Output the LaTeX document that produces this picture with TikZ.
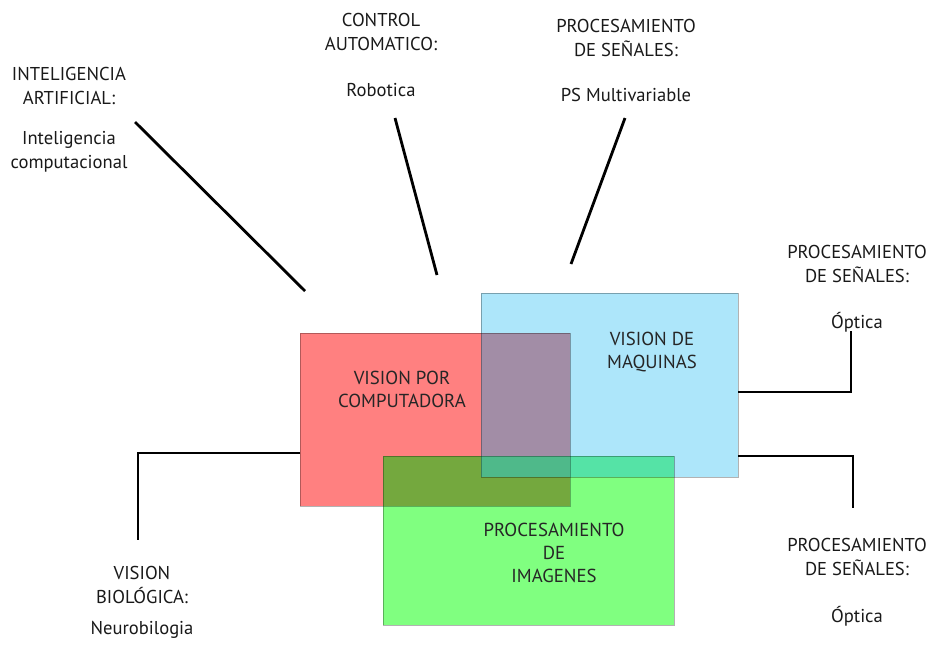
\documentclass[tikz,border=0pt]{standalone}
\usepackage{fontspec}
\setmainfont{PT Sans}
\begin{document}
\begin{tikzpicture}[x=1pt,y=-1pt,
  lbl/.style={text=black!90, font=\fontsize{18.6}{24}\selectfont, align=center, inner sep=0pt, anchor=center},
  boxlbl/.style={text=black!85, font=\fontsize{18.8}{23}\selectfont, align=center, inner sep=0pt},
  area/.style={draw=none, inner sep=0pt, outer sep=0pt, anchor=north west},
  edge/.style={draw=black, draw opacity=0.3, line width=1pt},
  link/.style={draw=black, line width=2.8pt}]
\useasboundingbox (0,0) rectangle (931,657);

% colours of the three fields and their overlaps
\definecolor{redc}{HTML}{FF8080}
\definecolor{bluec}{HTML}{ADE6FA}
\definecolor{greenc}{HTML}{80FF80}
\definecolor{rbc}{HTML}{A28DA6}
\definecolor{rgc}{HTML}{74A83E}
\definecolor{bgc}{HTML}{55E3A6}
\definecolor{rbgc}{HTML}{4FB98A}

% the three fields
\node[area, fill=redc, minimum width=270pt, minimum height=173pt] (vc) at (300,333) {};
\node[area, fill=bluec, minimum width=257pt, minimum height=184pt] (vm) at (481,293) {};
\begin{scope}
  \clip (vc.north west) rectangle (vc.south east);
  \fill[rbc] (vm.north west) rectangle (vm.south east);
\end{scope}
\node[area, fill=greenc, minimum width=291pt, minimum height=169pt] (pi) at (383,456) {};
\begin{scope}
  \clip (pi.north west) rectangle (pi.south east);
  \fill[rgc] (vc.north west) rectangle (vc.south east);
  \fill[bgc] (vm.north west) rectangle (vm.south east);
  \clip (vc.north west) rectangle (vc.south east);
  \fill[rbgc] (vm.north west) rectangle (vm.south east);
\end{scope}
\draw[edge] (vc.north west) rectangle (vc.south east);
\draw[edge] (vm.north west) rectangle (vm.south east);
\draw[edge] (pi.north west) rectangle (pi.south east);

% field labels
\node[boxlbl] (vct) at (402,389) {VISION POR\\COMPUTADORA};
\node[boxlbl] (vmt) at (652,352) {VISION DE\\MAQUINAS};
\node[boxlbl] (pit) at (554,553) {PROCESAMIENTO\\DE\\IMAGENES};

% neighbouring disciplines
\node[lbl] (ia) at (69,86) {INTELIGENCIA\\ARTIFICIAL:};
\node[lbl] (iad) at (69,152) {Inteligencia\\computacional};
\node[lbl] (ca) at (381,32) {CONTROL\\AUTOMATICO:};
\node[lbl] (cad) at (381,90) {Robotica};
\node[lbl] (ps) at (626,38) {PROCESAMIENTO\\DE SEÑALES:};
\node[lbl] (psd) at (626,95) {PS Multivariable};
\node[lbl] (po) at (857,264) {PROCESAMIENTO\\DE SEÑALES:};
\node[lbl] (pod) at (857,322) {Óptica};
\node[lbl] (pu) at (857,557) {PROCESAMIENTO\\DE SEÑALES:};
\node[lbl] (pud) at (857,616) {Óptica};
\node[lbl] (vb) at (142,585) {VISION\\BIOLÓGICA:};
\node[lbl] (vbd) at (142,630) {Neurobilogia};

% connector end points
\coordinate (iaA) at (135,122);
\coordinate (iaB) at (305,291);
\coordinate (caA) at (395,118);
\coordinate (caB) at (437,275);
\coordinate (psA) at (625,118);
\coordinate (psB) at (571,264);
\coordinate (poE) at (851,331);
\coordinate (puE) at (853,508);
\coordinate (vbE) at (138,540);

% connectors
\draw[link] (iaA) -- (iaB);
\draw[link] (caA) -- (caB);
\draw[link] (psA) -- (psB);
\draw[link] (vm.north east |- 0,392) -| (poE);
\draw[link] (vm.north east |- 0,456) -| (puE);
\draw[link] (vc.north west |- 0,453) -| (vbE);
\end{tikzpicture}
\end{document}
